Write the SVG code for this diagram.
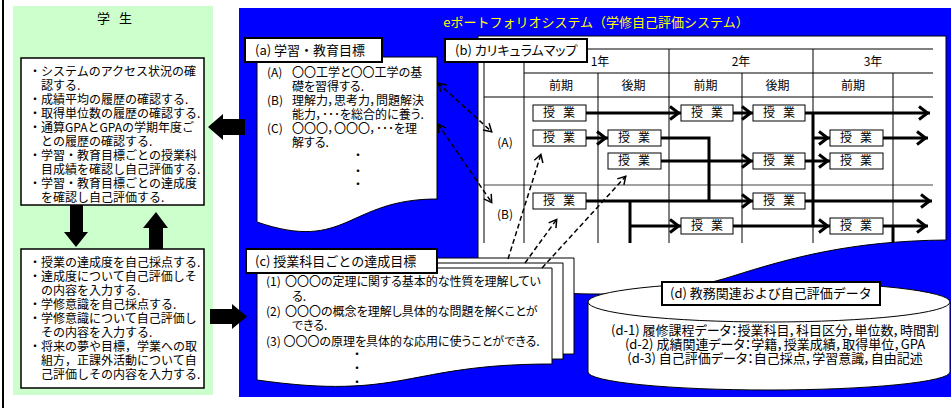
<svg xmlns="http://www.w3.org/2000/svg" width="951" height="408" viewBox="0 0 951 408">
<defs>
<style>
text{font-family:"Noto Sans CJK JP","Liberation Sans",sans-serif;font-size:12px;fill:#000}
.p{font-feature-settings:"palt"}
.lb{font-size:13px}
.box{fill:#fff;stroke:#000;stroke-width:1.5}
.lab{fill:#fff;stroke:#000;stroke-width:2}
.page{fill:#fff;stroke:#000;stroke-width:1}
.tl{stroke:#000;stroke-width:1;fill:none}
.c{stroke:#000;stroke-width:3;fill:none;marker-end:url(#ah)}
.c0{stroke:#000;stroke-width:3;fill:none}
.cb{fill:#fff;stroke:#000;stroke-width:1}
.d{stroke:#000;stroke-width:1.5;fill:none;stroke-dasharray:5 3;marker-end:url(#dh)}
.dd{marker-start:url(#dh2)}
.big{fill:#000}
</style>
<marker id="ah" markerUnits="userSpaceOnUse" viewBox="-14 -9 16 18" markerWidth="16" markerHeight="18" refX="0" refY="0" orient="auto">
<path d="M-11,-6.5 L-2.5,0 L-11,6.5" fill="none" stroke="#000" stroke-width="3"/>
</marker>
<marker id="dh" markerUnits="userSpaceOnUse" viewBox="-11 -6 13 12" markerWidth="13" markerHeight="12" refX="0" refY="0" orient="auto">
<path d="M-8,-4.5 L-0.5,0 L-8,4.5" fill="none" stroke="#000" stroke-width="1.5"/>
</marker>
<marker id="dh2" markerUnits="userSpaceOnUse" viewBox="-11 -6 13 12" markerWidth="13" markerHeight="12" refX="0" refY="0" orient="auto-start-reverse">
<path d="M-8,-4.5 L-0.5,0 L-8,4.5" fill="none" stroke="#000" stroke-width="1.5"/>
</marker>
</defs>

<rect x="0" y="0" width="951" height="408" fill="#fff"/>
<line x1="3" y1="0" x2="3" y2="408" stroke="#000" stroke-width="2"/>

<!-- student panel -->
<g id="student">
<rect x="13" y="6" width="200" height="389" fill="#CCFFCC"/>
<text class="lb" x="97 110 119" y="23">学 生</text>
</g>

<g id="student-view">
<rect class="box" x="21" y="58" width="183" height="147"/>
<text x="29" y="75.5">・システムのアクセス状況の確</text>
<text x="41" y="89.5">認する.</text>
<text x="29" y="103.5">・成績平均の履歴の確認する.</text>
<text x="29" y="117.5">・取得単位数の履歴の確認する.</text>
<text x="29" y="131.5">・通算GPAとGPAの学期年度ご</text>
<text x="41" y="145.5">との履歴の確認する.</text>
<text x="29" y="159.5">・学習・教育目標ごとの授業科</text>
<text x="41" y="173.5">目成績を確認し自己評価する.</text>
<text x="29" y="187.5">・学習・教育目標ごとの達成度</text>
<text x="41" y="201.5">を確認し自己評価する.</text>
</g>

<g id="student-input">
<rect class="box" x="21" y="249" width="183" height="139"/>
<text x="29" y="266.5">・授業の達成度を自己採点する.</text>
<text x="29" y="280.5">・達成度について自己評価しそ</text>
<text x="41" y="294.5">の内容を入力する.</text>
<text x="29" y="308.5">・学修意識を自己採点する.</text>
<text x="29" y="322.5">・学修意識について自己評価し</text>
<text x="41" y="336.5">その内容を入力する.</text>
<text x="29" y="351">・将来の夢や目標，学業への取</text>
<text x="41" y="365">組方，正課外活動について自</text>
<text x="41" y="379">己評価しその内容を入力する.</text>
</g>

<!-- system panel -->
<g id="system">
<rect x="239" y="8" width="712" height="389" fill="#0000FF"/>
<text class="lb" x="596" y="27" text-anchor="middle" style="fill:#FFFF00">eポートフォリオシステム（学修自己評価システム）</text>
</g>

<g id="goals">
<path class="page" d="M257,57 H437 V199 C347,199 347,253 257,222 Z"/>
<text class="p" x="267" y="76.5">(A)</text>
<text class="p" x="292" y="76.5">〇〇工学と〇〇工学の基</text>
<text class="p" x="292" y="90.5">礎を習得する.</text>
<text class="p" x="267" y="104.5">(B)</text>
<text class="p" x="292" y="104.5">理解力，思考力，問題解決</text>
<text class="p" x="292" y="118.5">能力，･･･を総合的に養う.</text>
<text class="p" x="267" y="132.5">(C)</text>
<text class="p" x="292" y="132.5">〇〇〇，〇〇〇，･･･を理</text>
<text class="p" x="292" y="147">解する.</text>
<text x="358" y="160" text-anchor="middle">・</text>
<text x="358" y="176" text-anchor="middle">・</text>
<text x="358" y="189" text-anchor="middle">・</text>
<rect class="lab" x="245" y="38" width="137" height="24"/>
<text class="lb" x="255" y="54.6">(a) 学習・教育目標</text>
</g>

<g id="curriculum-map">
<path class="page" d="M478,36 H946 V240 C850,241 790,258 733,276 C690,290 640,294 600,294 C550,294 510,290 478,285 Z"/>
<g class="tl">
<line x1="524" y1="49" x2="933" y2="49"/>
<line x1="524" y1="73" x2="933" y2="73"/>
<line x1="484" y1="97" x2="933" y2="97"/>
<line x1="484" y1="185" x2="933" y2="185" stroke="#444"/>
<line x1="484" y1="62" x2="484" y2="243"/>
<line x1="524" y1="49" x2="524" y2="243"/>
<line x1="598" y1="73" x2="598" y2="243"/>
<line x1="669" y1="49" x2="669" y2="243"/>
<line x1="742" y1="73" x2="742" y2="243"/>
<line x1="813" y1="49" x2="813" y2="243"/>
<line x1="893" y1="73" x2="893" y2="243"/>
</g>
<text x="600" y="66.3" text-anchor="middle">1年</text>
<text x="741" y="66.3" text-anchor="middle">2年</text>
<text x="873" y="66.3" text-anchor="middle">3年</text>
<text x="561" y="90.3" text-anchor="middle">前期</text>
<text x="633.5" y="90.3" text-anchor="middle">後期</text>
<text x="705.5" y="90.3" text-anchor="middle">前期</text>
<text x="777.5" y="90.3" text-anchor="middle">後期</text>
<text x="853" y="90.3" text-anchor="middle">前期</text>
<text x="505" y="147.3" text-anchor="middle">(A)</text>
<text x="505" y="219.3" text-anchor="middle">(B)</text>
</g>

<g id="map-connectors">
<path class="c" d="M586,113 H681"/>
<path class="c" d="M733,113 H753"/>
<path class="c" d="M805,113 H930"/>
<path class="c0" d="M813,113 V226"/>
<path class="c" d="M813,138 H830"/>
<path class="c" d="M586,138 H608"/>
<path class="c0" d="M661,138 H709 V201"/>
<path class="c" d="M883,138 H928"/>
<path class="c" d="M661,161 H753"/>
<path class="c" d="M805,161 H830"/>
<path class="c" d="M586,201 H753"/>
<path class="c" d="M805,201 H932"/>
<path class="c0" d="M630,201 V243"/>
<path class="c" d="M630,226 H681"/>
<path class="c" d="M733,226 H830"/>
<path class="c" d="M883,226 H928"/>
<path class="c0" d="M893,226 V243"/>
</g>

<g id="courses">
<rect class="cb" x="533" y="105" width="53" height="16"/><text x="543 555 563" y="117.3">授 業</text>
<rect class="cb" x="681" y="105" width="52" height="16"/><text x="691 703 711" y="117.3">授 業</text>
<rect class="cb" x="753" y="105" width="52" height="16"/><text x="763 775 783" y="117.3">授 業</text>
<rect class="cb" x="533" y="130" width="53" height="16"/><text x="543 555 563" y="142.3">授 業</text>
<rect class="cb" x="608" y="130" width="53" height="16"/><text x="618 630 638" y="142.3">授 業</text>
<rect class="cb" x="830" y="130" width="53" height="16"/><text x="840 852 860" y="142.3">授 業</text>
<rect class="cb" x="608" y="153" width="53" height="16"/><text x="618 630 638" y="165.3">授 業</text>
<rect class="cb" x="753" y="153" width="52" height="16"/><text x="763 775 783" y="165.3">授 業</text>
<rect class="cb" x="830" y="153" width="53" height="16"/><text x="840 852 860" y="165.3">授 業</text>
<rect class="cb" x="533" y="193" width="53" height="16"/><text x="543 555 563" y="205.3">授 業</text>
<rect class="cb" x="753" y="193" width="52" height="16"/><text x="763 775 783" y="205.3">授 業</text>
<rect class="cb" x="681" y="218" width="52" height="16"/><text x="691 703 711" y="230.3">授 業</text>
<rect class="cb" x="830" y="218" width="53" height="16"/><text x="840 852 860" y="230.3">授 業</text>
</g>

<g id="course-goals">
<path class="page" d="M279,258 H574 V354 C426.5,354 426.5,390.9 279,370 Z"/>
<path class="page" d="M268,263 H563 V359 C415.5,359 415.5,395.9 268,375 Z"/>
<path class="page" d="M257,268 H552 V364 C404.5,364 404.5,400.9 257,380 Z"/>
<text class="p" x="266" y="286.3">(1)</text>
<text class="p" x="285" y="286.3">〇〇〇の定理に関する基本的な性質を理解してい</text>
<text class="p" x="292" y="301.3">る.</text>
<text class="p" x="266" y="316.3">(2)</text>
<text class="p" x="285" y="316.3">〇〇〇の概念を理解し具体的な問題を解くことが</text>
<text class="p" x="292" y="330.3">できる.</text>
<text class="p" x="266" y="346.3">(3) 〇〇〇の原理を具体的な応用に使うことができる.</text>
<text x="357" y="359" text-anchor="middle">・</text>
<text x="357" y="373" text-anchor="middle">・</text>
<text x="357" y="387" text-anchor="middle">・</text>
<rect class="lab" x="246" y="249" width="191" height="24"/>
<text class="lb" x="255" y="265.6">(c) 授業科目ごとの達成目標</text>
</g>

<g id="data">
<path class="page" d="M588,302 V372 A181,18 0 0 0 950,372 V302 Z"/>
<ellipse class="page" cx="769" cy="302" rx="181" ry="20"/>
<rect class="lab" x="662" y="282" width="218" height="23"/>
<text class="lb" x="771" y="298" text-anchor="middle">(d) 教務関連および自己評価データ</text>
<text class="lb p" x="775" y="334.6" text-anchor="middle">(d-1) 履修課程データ：授業科目，科目区分，単位数，時間割</text>
<text class="lb p" x="775" y="348.6" text-anchor="middle">(d-2) 成績関連データ：学籍，授業成績，取得単位，GPA</text>
<text class="lb p" x="775" y="362.6" text-anchor="middle">(d-3) 自己評価データ：自己採点，学習意識，自由記述</text>
</g>

<g id="map-label">
<rect class="lab" x="445" y="39" width="142" height="23"/>
<text class="lb p" x="455" y="55">(b) カリキュラムマップ</text>
</g>

<g id="connectors">
<path class="big" d="M208,127 L223,114 L223,119 L245,119 L245,135 L223,135 L223,140 Z"/>
<path class="big" d="M210,309 L232,309 L232,304 L247,316.5 L232,329 L232,324 L210,324 Z"/>
<path class="big" d="M70,205 L83,205 L83,232 L88,232 L76,247 L64,232 L70,232 Z"/>
<path class="big" d="M149,249 L163,249 L163,228 L168,228 L156,212 L143,228 L149,228 Z"/>
<path class="d dd" d="M438,83 L492,132"/>
<path class="d dd" d="M438,124 L492,203"/>
<path class="d" d="M508,259 L541,154"/>
<path class="d" d="M525,263 L557,219"/>
<path class="d" d="M542,268 L626,176"/>
</g>
</svg>
